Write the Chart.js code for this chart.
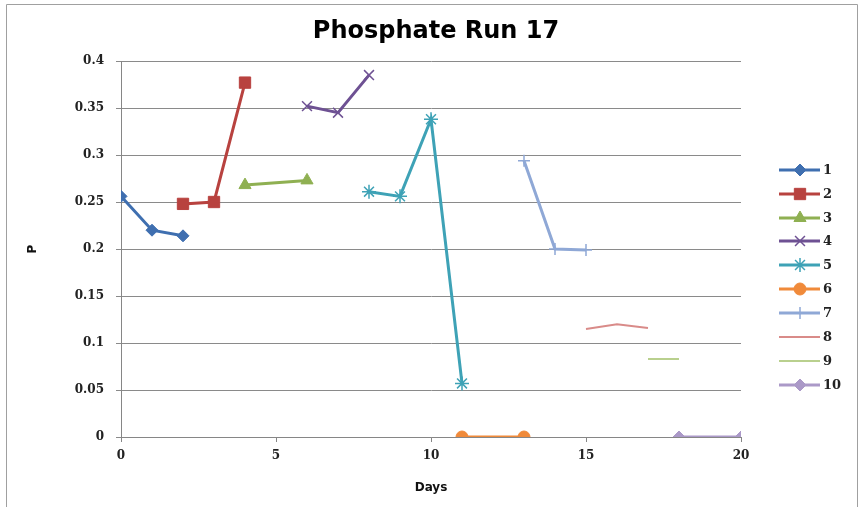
<!DOCTYPE html>
<html>
<head>
<meta charset="utf-8">
<script src="https://cdn.jsdelivr.net/npm/chart.js@4/dist/chart.umd.min.js"></script>
<style>
  html, body { margin: 0; padding: 0; background: #fff; }
  #wrap { width: 862px; height: 507px; position: relative; }
</style>
</head>
<body>
<div id="wrap"><canvas id="chartContainer1" width="862" height="507"></canvas></div>
<script>
// series: [day, P]
var s1 = [[0, 0.256], [1, 0.22], [2, 0.214]];
var s2 = [[2, 0.248], [3, 0.25], [4, 0.377]];
var s3 = [[4, 0.268], [6, 0.273]];
var s4 = [[6, 0.352], [7, 0.345], [8, 0.385]];
var s5 = [[8, 0.261], [9, 0.256], [10, 0.338], [11, 0.057]];
var s6 = [[11, 0], [13, 0]];
var s7 = [[13, 0.294], [14, 0.2], [15, 0.199]];
var s8 = [[15, 0.115], [16, 0.12], [17, 0.116]];
var s9 = [[17, 0.083], [18, 0.083]];
var s10 = [[18, 0], [20, 0]];

var chartTitle = "Phosphate Run 17";
var seriesNames = ["1", "2", "3", "4", "5", "6", "7", "8", "9", "10"];
var seriesData = [s1, s2, s3, s4, s5, s6, s7, s8, s9, s10];
var colors = ["#3f6fb0", "#b8423f", "#8fb052", "#6e5193", "#3ea2b6", "#f08a3a", "#8fa8d6", "#d98b89", "#b9d08e", "#ab99c8"];
var styles = ["rectRot", "rect", "triangle", "crossRot", "star", "circle", "cross", false, false, "rectRot"];
var radii = [6, 8, 7, 7, 7, 6, 6, 0, 0, 6];
var widths = [3, 3, 3, 3, 3, 3, 3, 2, 2, 3];

var ctx1 = document.getElementById("chartContainer1").getContext("2d");

var datasets = [];
for (var i = 0; i < seriesData.length; i++) {
  var pts = seriesData[i].map(function (p) { return { x: p[0], y: p[1] }; });
  datasets.push({
    label: seriesNames[i],
    data: pts,
    showLine: true,
    borderColor: colors[i],
    backgroundColor: colors[i],
    borderWidth: widths[i],
    pointStyle: styles[i],
    pointRadius: radii[i],
    pointBorderWidth: (styles[i] == "crossRot" || styles[i] == "star" || styles[i] == "cross") ? 1.5 : 1,
    pointBorderColor: colors[i],
    pointBackgroundColor: colors[i],
    tension: 0
  });
}

// title centred on the whole chart, excel-like legend, chart border
var extras = {
  id: "extras",
  afterDraw: function (chart) {
    var c = chart.ctx;
    c.save();
    c.strokeStyle = "#a0a0a0";
    c.lineWidth = 1;
    c.beginPath();
    c.moveTo(6.5, 520);
    c.lineTo(6.5, 4.5);
    c.lineTo(857.5, 4.5);
    c.lineTo(857.5, 520);
    c.stroke();

    c.fillStyle = "#000";
    c.font = "bold 24px 'DejaVu Sans'";
    c.textAlign = "center";
    c.textBaseline = "middle";
    c.fillText(chartTitle, 436, 32);

    var ys = [170, 194, 218, 241, 265, 289, 313, 337, 361, 385];
    chart.data.datasets.forEach(function (ds, i) {
      var y = ys[i];
      c.strokeStyle = ds.borderColor;
      c.lineWidth = ds.borderWidth;
      c.beginPath();
      c.moveTo(779, y);
      c.lineTo(820, y);
      c.stroke();
      if (ds.pointStyle) {
        c.fillStyle = ds.backgroundColor;
        c.strokeStyle = ds.borderColor;
        c.lineWidth = ds.pointBorderWidth;
        Chart.helpers.drawPoint(c, {
          pointStyle: ds.pointStyle,
          radius: ds.pointRadius,
          rotation: 0,
          borderWidth: ds.pointBorderWidth
        }, 800, y);
      }
      c.fillStyle = "#222";
      c.font = "bold 13px 'DejaVu Serif'";
      c.textAlign = "left";
      c.textBaseline = "middle";
      c.fillText(ds.label, 823, y + 1);
    });
    c.restore();
  }
};

var myChart = new Chart(ctx1, {
  type: "scatter",
  data: { datasets: datasets },
  options: {
    responsive: false,
    animation: false,
    layout: { padding: { left: 0, right: 121, top: 61, bottom: 0 } },
    plugins: {
      legend: { display: false },
      tooltip: { enabled: false },
      title: { display: false }
    },
    scales: {
      x: {
        type: "linear",
        min: 0,
        max: 20,
        afterFit: function (s) { s.height = 70; },
        ticks: { stepSize: 5, color: "#222", padding: 7, font: { family: "'DejaVu Serif'", size: 12, weight: "bold" } },
        grid: { drawOnChartArea: false, drawTicks: true, tickLength: 5, color: "#868686" },
        border: { color: "#868686", width: 1 },
        title: { display: true, text: "Days", color: "#111", padding: { top: 0, bottom: 12 }, font: { family: "'DejaVu Sans'", size: 12, weight: "bold" } }
      },
      y: {
        min: 0,
        max: 0.4,
        afterFit: function (s) { s.width = 121; },
        ticks: {
          stepSize: 0.05,
          color: "#222",
          padding: 12,
          font: { family: "'DejaVu Serif'", size: 12, weight: "bold" },
          callback: function (v) { return String(Math.round(v * 100) / 100); }
        },
        grid: { color: "#8a8a8a", tickLength: 5, lineWidth: 1 },
        border: { color: "#868686", width: 1 },
        title: { display: true, text: "P", color: "#111", padding: { top: 26, bottom: 0 }, font: { family: "'DejaVu Sans'", size: 12, weight: "bold" } }
      }
    }
  },
  plugins: [extras]
});
</script>
</body>
</html>
